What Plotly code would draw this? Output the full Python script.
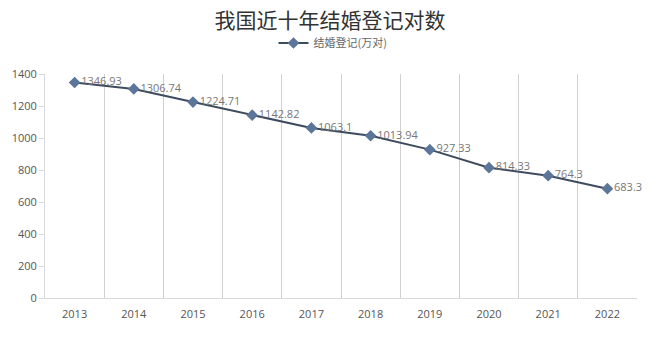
import plotly.graph_objects as go

years = ["2013", "2014", "2015", "2016", "2017", "2018", "2019", "2020", "2021", "2022"]
marriages = [1346.93, 1306.74, 1224.71, 1142.82, 1063.1, 1013.94, 927.33, 814.33, 764.3, 683.3]
labels = ["1346.93", "1306.74", "1224.71", "1142.82", "1063.1", "1013.94", "927.33", "814.33", "764.3", "683.3"]
y_ticks = [0, 200, 400, 600, 800, 1000, 1200, 1400]

fig = go.Figure()
fig.add_trace(go.Scatter(
    x=years, y=marriages, mode="lines+markers+text",
    name="结婚登记(万对)",
    text=labels, textposition="middle right",
    textfont=dict(size=11, color="#777777", family="Open Sans, DejaVu Sans"),
    line=dict(color="#3e4b5e", width=2),
    marker=dict(symbol="diamond", size=9, color="#5b7699"),
    cliponaxis=False,
))

fig.update_layout(
    width=660, height=364,
    paper_bgcolor="white", plot_bgcolor="white",
    margin=dict(l=37, r=31, t=66, b=74, autoexpand=False),
    title=dict(text="我国近十年结婚登记对数", x=(330 - 8) / 660, xanchor="center",
               yref="container", y=1 - 13 / 364, yanchor="middle",
               font=dict(size=21, color="#333333", family="Noto Sans CJK SC")),
    showlegend=True,
    legend=dict(orientation="h", x=(333 - 8 - 37) / 592, xanchor="center",
                yref="container", y=1 - 35 / 364, yanchor="middle",
                font=dict(size=11, color="#666666", family="Noto Sans CJK SC"),
                itemwidth=30),
    xaxis=dict(type="category", tickson="boundaries", showgrid=True, gridcolor="#d0d0d0", gridwidth=1,
               showline=True, linecolor="#d9d9d9", ticks="", automargin=False,
               ticklabelstandoff=6,
               tickfont=dict(size=11, color="#555555", family="Open Sans, DejaVu Sans"),
               range=[-0.5, 9.5]),
    yaxis=dict(range=[0, 1400], tickvals=y_ticks, showgrid=False, zeroline=False, automargin=False,
               showline=True, linecolor="#d9d9d9", ticks="outside", ticklen=5, tickcolor="#d9d9d9",
               tickfont=dict(size=11, color="#555555", family="Open Sans, DejaVu Sans")),
)

fig.write_html("out.html")
